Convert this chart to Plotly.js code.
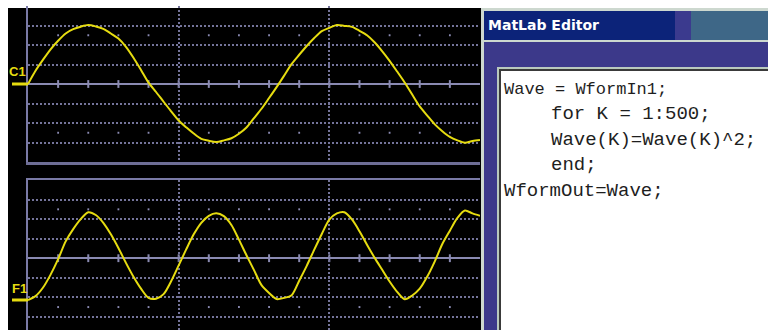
<!DOCTYPE html>
<html><head><meta charset="utf-8">
<script src="https://cdn.plot.ly/plotly-3.0.1.min.js"></script>
<style>html,body{margin:0;padding:0;background:#fff;overflow:hidden}#chart{width:768px;height:330px}</style>
</head><body><div id="chart"></div>
<script>
// ---- data (horizontal divisions / vertical divisions) ----
const timeDiv = [0,0.25,0.5,0.75,1,1.25,1.5,1.75,2,2.25,2.5,2.75,3,3.25,3.5,3.75,4,4.25,4.5,4.75,5,5.25,5.5,5.75,6,6.25,6.5,6.75,7,7.25,7.5,7.75,8,8.25,8.5,8.75,9,9.25,9.5,9.75,10,10.25,10.5,10.75,11,11.25,11.5,11.75,12,12.25,12.5,12.75,13,13.25,13.5,13.75,14,14.25,14.5,14.75,15];
const c1Div = [0,0.68,1.25,1.78,2.22,2.59,2.81,2.94,3.02,2.95,2.83,2.59,2.33,1.91,1.35,0.72,0.07,-0.41,-0.91,-1.40,-1.87,-2.22,-2.54,-2.81,-2.91,-2.97,-2.89,-2.78,-2.55,-2.23,-1.75,-1.27,-0.72,-0.16,0.43,1.03,1.50,1.95,2.36,2.71,2.88,3.02,2.98,2.93,2.73,2.50,2.14,1.69,1.19,0.64,0.08,-0.54,-1.15,-1.62,-2.07,-2.42,-2.71,-2.89,-3.01,-2.92,-2.87];
const f1Div = [-2.14,-1.94,-1.50,-0.84,-0.05,0.86,1.49,2.00,2.35,2.21,1.81,1.22,0.52,-0.24,-0.95,-1.56,-2.03,-2.07,-1.84,-1.18,-0.37,0.45,1.22,1.81,2.17,2.30,2.15,1.70,0.95,0.15,-0.61,-1.38,-1.78,-2.09,-2.03,-1.89,-1.15,-0.39,0.44,1.24,1.97,2.29,2.35,1.98,1.38,0.69,0.03,-0.58,-1.19,-1.72,-2.10,-1.91,-1.56,-0.94,-0.16,0.73,1.41,2.06,2.44,2.29,2.17];
const channelLabels = ["C1","F1"];
const editorTitle = "MatLab Editor";
const codeLines = ["Wave = WformIn1;","for K = 1:500;","Wave(K)=Wave(K)^2;","end;","WformOut=Wave;"];
const codeIndent = [0,1,1,1,0];

// ---- geometry helpers (pixel -> paper) ----
const W = 768, H = 330;
const px = x => x / W, py = y => 1 - y / H;
const YEL = '#e6dc10', GRID = '#74749a', LINE = '#8a8ab2';

function rect(x0,y0,x1,y1,fill){return {type:'rect',xref:'paper',yref:'paper',x0:px(x0),x1:px(x1),y0:py(y1),y1:py(y0),fillcolor:fill,line:{width:0},layer:'below'};}
function hline(x0,x1,y,color,w){return {type:'line',xref:'paper',yref:'paper',x0:px(x0),x1:px(x1),y0:py(y),y1:py(y),line:{color:color,width:w},layer:'above'};}

const shapes = [];
shapes.push(rect(8,8,481,330,'#000000'));
// editor frame
shapes.push(rect(481,8,768,330,'#cdd8cf'));
shapes.push(rect(484,11,675,40,'#0c2379'));
shapes.push(rect(675,11,691,40,'#3b3a8e'));
shapes.push(rect(691,11,768,40,'#3e6787'));
shapes.push(rect(484,42,768,67,'#3c398a'));
shapes.push(rect(484,42,497,330,'#3c398a'));
shapes.push(rect(497,67,768,330,'#b9c9bd'));
shapes.push(rect(499,69,768,330,'#3a3a3a'));
shapes.push(rect(501,71,768,330,'#ffffff'));
// channel baseline markers
shapes.push(hline(12,28,84,YEL,3));
shapes.push(hline(12,28,300,YEL,3));

// center-line ticks and dots, in data coordinates of each panel
[['x','y'],['x2','y2']].forEach(([xr,yr])=>{
  for(let d=1; d<15; d++){
    shapes.push({type:'line',xref:xr,yref:yr,x0:d,x1:d,y0:-0.2,y1:0.2,line:{color:LINE,width:2},layer:'below'});
    if(d%5!==0){
      [-2.5,2.5].forEach(v=>shapes.push({type:'rect',xref:xr,yref:yr,x0:d-0.03,x1:d+0.03,y0:v-0.05,y1:v+0.05,fillcolor:LINE,line:{width:0},layer:'below'}));
    }
  }
});

const traces = [
  {x:timeDiv,y:c1Div,xaxis:'x',yaxis:'y',mode:'lines',line:{color:YEL,width:2,shape:'spline',smoothing:0.8},hoverinfo:'skip'},
  {x:timeDiv,y:f1Div,xaxis:'x2',yaxis:'y2',mode:'lines',line:{color:YEL,width:2,shape:'spline',smoothing:0.8},hoverinfo:'skip'}
];

const xCommon = {range:[0,15],tickvals:[5,10,15],showgrid:true,gridcolor:GRID,gridwidth:2,griddash:'2px,2px',showticklabels:false,ticks:'',zeroline:false,fixedrange:true};
const yCommon = {tickvals:[-3,-2,-1,1,2,3],showgrid:true,gridcolor:GRID,gridwidth:2,griddash:'2px,2px',showticklabels:false,ticks:'',zeroline:true,zerolinecolor:LINE,zerolinewidth:2,showline:true,linecolor:'#7a7aa6',linewidth:2,fixedrange:true};

const annotations = [];
annotations.push({xref:'paper',yref:'paper',x:px(17),y:py(72),text:'<b>'+channelLabels[0]+'</b>',showarrow:false,font:{family:'Liberation Sans',size:13,color:YEL},xanchor:'center',yanchor:'middle'});
annotations.push({xref:'paper',yref:'paper',x:px(19),y:py(288),text:'<b>'+channelLabels[1]+'</b>',showarrow:false,font:{family:'Liberation Sans',size:13,color:YEL},xanchor:'center',yanchor:'middle'});
annotations.push({xref:'paper',yref:'paper',x:px(486),y:py(25),text:'<b>'+editorTitle+'</b>',showarrow:false,font:{family:'DejaVu Sans',size:14,color:'#ffffff'},xanchor:'left',yanchor:'middle'});
const lineY = [89,114,140,165.5,191];
const lineSize = [17,19,19,19,19];
codeLines.forEach((t,i)=>{
  annotations.push({xref:'paper',yref:'paper',x:px(codeIndent[i]?549:502),y:py(lineY[i]),text:t,showarrow:false,font:{family:'Liberation Mono',size:lineSize[i],color:'#1e1e1e'},xanchor:'left',yanchor:'middle'});
});

const layout = {
  width:W,height:H,margin:{l:0,r:0,t:0,b:0},paper_bgcolor:'#ffffff',plot_bgcolor:'rgba(0,0,0,0)',showlegend:false,
  xaxis:Object.assign({},xCommon,{domain:[px(28),px(480)],anchor:'y',showline:true,linecolor:'#6e6e96',linewidth:3}),
  yaxis:Object.assign({},yCommon,{domain:[py(162),py(6)],range:[-4,4],anchor:'x'}),
  xaxis2:Object.assign({},xCommon,{domain:[px(28),px(480)],anchor:'y2',side:'top',showline:true,linecolor:'#7a7aa6',linewidth:2}),
  yaxis2:Object.assign({},yCommon,{domain:[0,py(180)],range:[-3.673,4],anchor:'x2'}),
  shapes:shapes,annotations:annotations
};
Plotly.newPlot('chart',traces,layout,{staticPlot:true,displayModeBar:false});
</script></body></html>
